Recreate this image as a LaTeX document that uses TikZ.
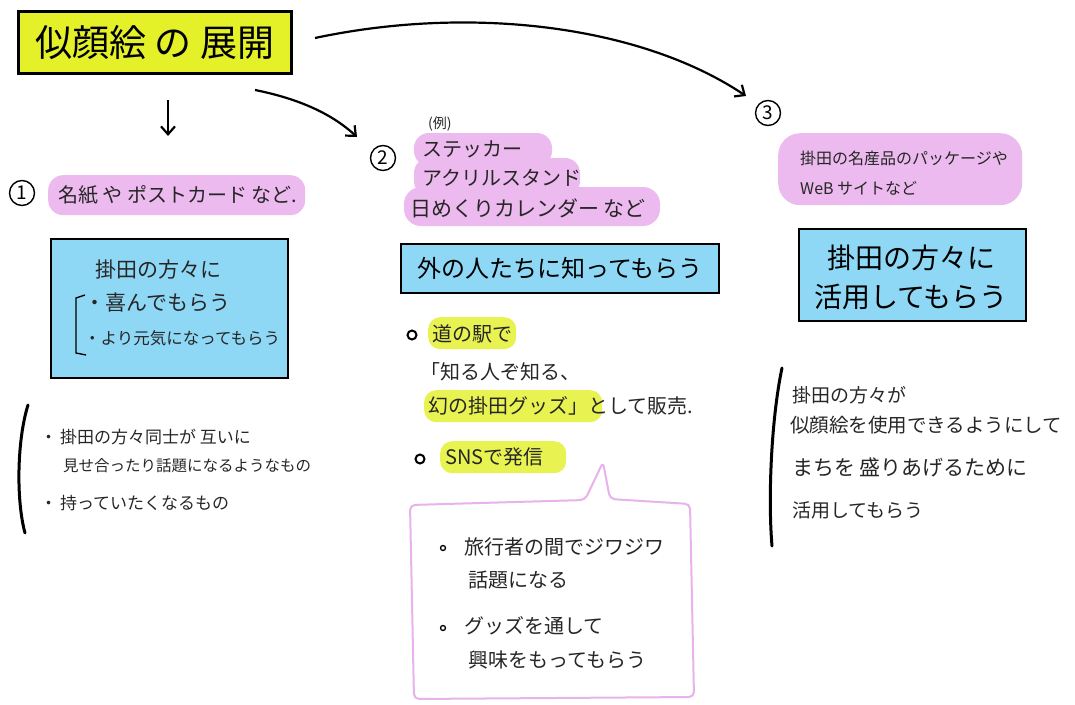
\documentclass[tikz,border=0pt]{standalone}
\usepackage{fontspec}
\setmainfont{Noto Sans CJK JP}
\usetikzlibrary{arrows.meta}
\definecolor{ttlyel}{RGB}{228,240,40}
\definecolor{hlyel}{RGB}{232,242,80}
\definecolor{pinkfill}{RGB}{236,186,238}
\definecolor{bluefill}{RGB}{142,216,246}
\definecolor{bubpink}{RGB}{232,178,236}
\newcommand\fsz[1]{\fontsize{#1}{#1}\selectfont}
\begin{document}
\begin{tikzpicture}[x=1pt,y=-1pt,
  txt/.style={anchor=west,inner sep=0pt,text=black!85},
  arr/.style={line width=2.2pt,-{Straight Barb[length=8pt,width=14pt,line width=2.2pt]}},
  num/.style={circle,draw,line width=1.4pt,minimum size=25pt,inner sep=0pt,font=\fsz{19}},
  bluebox/.style={draw,line width=2pt,fill=bluefill,anchor=north west,inner sep=0pt},
  pill/.style={fill=pinkfill,rounded corners=15pt,anchor=north west,inner sep=0pt},
  hl/.style={fill=hlyel,rounded corners=12pt,anchor=north west,inner sep=0pt},
  paren/.style={line width=3pt,line cap=round}]
\useasboundingbox (0,0) rectangle (1075,704);

% title
\node[draw,line width=2.5pt,fill=ttlyel,anchor=north west,minimum width=273pt,minimum height=62pt,font=\fsz{37}] (title) at (17,10) {似顔絵 の 展開};

% arrows
\coordinate (a1s) at (168,100);
\coordinate (a1e) at (168,136);
\coordinate (a2s) at (255,90);
\coordinate (a2e) at (357,137);
\coordinate (a3s) at (315,38);
\coordinate (a3e) at (746,96);
\draw[arr] (a1s) -- (a1e);
\draw[arr] (a2s) .. controls (295,98) and (330,112) .. (a2e);
\draw[arr] (a3s) .. controls (470,5) and (640,25) .. (a3e);

% ---------- column 1
\node[num] (n1) at (22,193) {1};
\node[pill,minimum width=257pt,minimum height=40pt] (p1) at (48,175) {};
\node[txt,font=\fsz{20}] (p1t) at (58,195) {名紙 や ポストカード など.};

\node[bluebox,minimum width=237pt,minimum height=139pt] (b1) at (50,238) {};
\node[txt,font=\fsz{21}] (b1a) at (95,270) {掛田の方々に};
\node[txt,font=\fsz{21}] (b1b) at (84,303) {・喜んでもらう};
\node[txt,font=\fsz{16.5}] (b1c) at (84,338) {・より元気になってもらう};
\draw[line width=1.3pt] (85,295) -- (76,298) -- (76,353) -- (86,355);

\draw[paren] (28,405) .. controls (17,440) and (16,500) .. (25,533);
\node[txt,font=\fsz{17}] (l1a) at (40,437) {・\,掛田の方々同士が 互いに};
\node[txt,font=\fsz{15.5}] (l1b) at (63,466) {見せ合ったり話題になるようなもの};
\node[txt,font=\fsz{17}] (l1c) at (40,503) {・\,持っていたくなるもの};

% ---------- column 2
\node[num] (n2) at (383,158) {2};
\node[txt,font=\fsz{14}] (ex) at (428,124) {(例)};
\fill[pinkfill,rounded corners=15pt] (414,133) rectangle (552,166);
\fill[pinkfill,rounded corners=15pt] (414,158) rectangle (580,196);
\fill[pinkfill,rounded corners=17pt] (404,187) rectangle (660,226);
\node[txt,font=\fsz{20}] (s1) at (422,149) {ステッカー};
\node[txt,font=\fsz{20}] (s2) at (422,178) {アクリルスタンド};
\node[txt,font=\fsz{21}] (s3) at (410,208) {日めくりカレンダー など};

\node[bluebox,minimum width=318pt,minimum height=49pt,font=\fsz{24}] (b2) at (400,243) {外の人たちに知ってもらう};

\node[hl,minimum width=88pt,minimum height=32pt] (h1) at (428,317) {};
\node[hl,minimum width=178pt,minimum height=32pt] (h2) at (424,390) {};
\node[hl,minimum width=126pt,minimum height=32pt] (h3) at (440,441) {};
\node[circle,draw,line width=2pt,minimum width=9pt,minimum height=7pt,inner sep=0pt] (o1) at (412,335) {};
\node[circle,draw,line width=2pt,minimum width=9pt,minimum height=7pt,inner sep=0pt] (o2) at (420,459) {};
\node[txt,font=\fsz{20}] (d1) at (432,334) {道の駅で};
\node[txt,font=\fsz{20}] (d2) at (420,372) {「知る人ぞ知る、};
\node[txt,font=\fsz{20}] (d3) at (428,406) {幻の掛田グッズ」として販売.};
\node[txt,font=\fsz{20}] (d4) at (445,457) {SNSで発信};

\draw[bubpink,line width=2pt,fill=white,rounded corners=5pt,line join=round]
  (410,505) -- (585,500) -- (603,462) -- (610,499) -- (690,504) -- (694,697) -- (414,699) -- cycle;
\node[circle,draw,line width=1.3pt,minimum size=5pt,inner sep=0pt] (q1) at (443,548) {};
\node[circle,draw,line width=1.3pt,minimum size=5pt,inner sep=0pt] (q2) at (443,628) {};
\node[txt,font=\fsz{20}] (u1) at (464,547) {旅行者の間でジワジワ};
\node[txt,font=\fsz{20}] (u2) at (468,580) {話題になる};
\node[txt,font=\fsz{20}] (u3) at (464,626) {グッズを通して};
\node[txt,font=\fsz{20}] (u4) at (468,660) {興味をもってもらう};

% ---------- column 3
\node[num] (n3) at (768,113) {3};
\node[pill,minimum width=244pt,minimum height=72pt,rounded corners=22pt] (p3) at (778,133) {};
\node[txt,font=\fsz{16}] (p3a) at (800,158) {掛田の名産品のパッケージや};
\node[txt,font=\fsz{16}] (p3b) at (800,188) {WeB サイトなど};

\node[bluebox,minimum width=227pt,minimum height=92pt] (b3) at (798,228) {};
\node[font=\fsz{28},inner sep=0pt] (b3a) at (911,258) {掛田の方々に};
\node[font=\fsz{28},inner sep=0pt] (b3b) at (911,297) {活用してもらう};

\draw[paren] (782,368) .. controls (771,420) and (768,500) .. (772,546);
\node[txt,font=\fsz{19}] (r1) at (792,395) {掛田の方々が};
\node[txt,font=\fsz{19.5}] (r2) at (790,425) {似顔絵を使用できるようにして};
\node[txt,font=\fsz{21}] (r3) at (792,467) {まちを 盛りあげるために};
\node[txt,font=\fsz{19}] (r4) at (792,510) {活用してもらう};
\end{tikzpicture}
\end{document}
